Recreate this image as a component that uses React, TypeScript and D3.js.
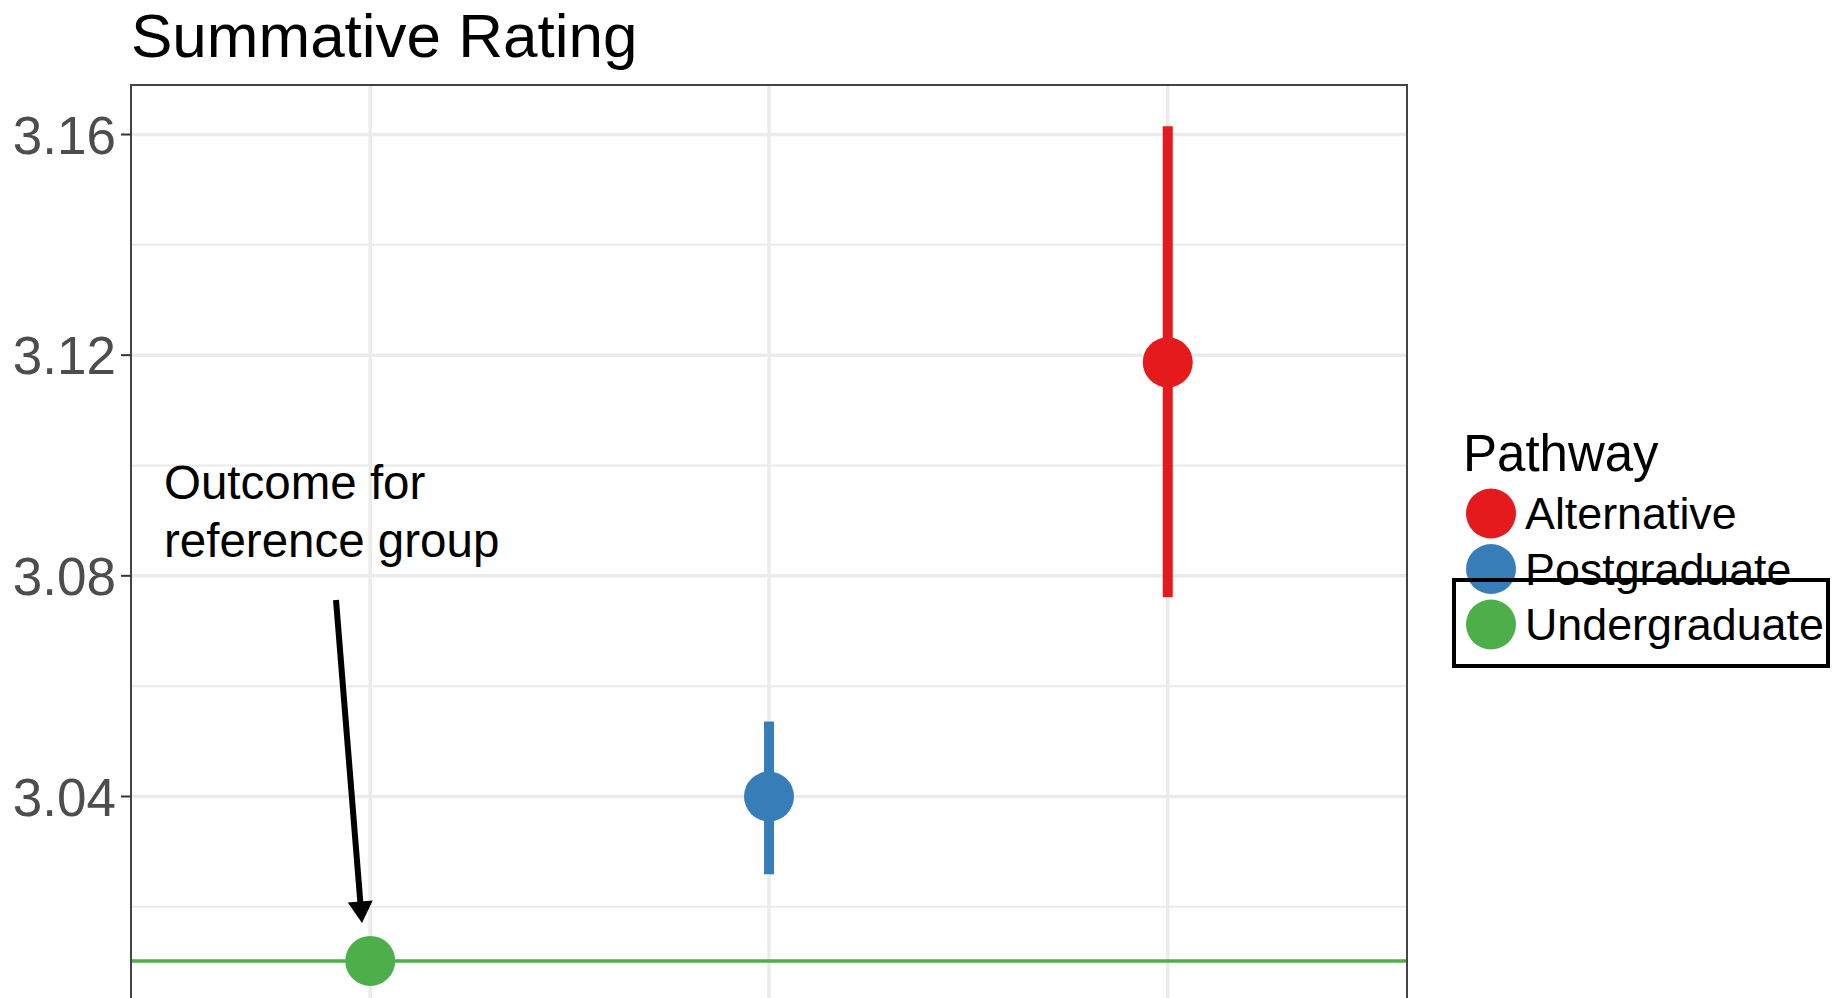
import React from "react";
import * as d3 from "d3";

// pathway estimates
const categories = ["Undergraduate", "Postgraduate", "Alternative"];
const estimates = [3.0102, 3.04, 3.1187];
const lower = [null, 3.0259, 3.0761];
const upper = [null, 3.0536, 3.1615];
const referenceValue = 3.0102;

const legendLabels = ["Alternative", "Postgraduate", "Undergraduate"];
const majorTicks = [3.04, 3.08, 3.12, 3.16];
const minorTicks = [3.02, 3.06, 3.1, 3.14];

const colors: Record<string, string> = {
  Alternative: "#E41A1C",
  Postgraduate: "#377EB8",
  Undergraduate: "#4DAF4A",
};

const W = 1832;
const H = 998;
const panel = { left: 131, right: 1407, top: 85, bottom: 1010 };
const FONT = "'Liberation Sans', Arial, Helvetica, sans-serif";

const App: React.FC = () => {
  // discrete x with ggplot's 0.6 expansion
  const x = d3
    .scaleLinear()
    .domain([0.4, 3.6])
    .range([panel.left, panel.right]);
  const xPos = (i: number) => x(i + 1);

  const y = d3.scaleLinear().domain([3.04, 3.16]).range([796.5, 134.5]);

  // arrow geometry
  const a0 = { x: 336, y: 600 };
  const a1 = { x: 362, y: 923 };
  const ang = Math.atan2(a1.y - a0.y, a1.x - a0.x);
  const headLen = 25;
  const spread = Math.PI / 6;
  const hp1 = [a1.x - headLen * Math.cos(ang - spread), a1.y - headLen * Math.sin(ang - spread)];
  const hp2 = [a1.x - headLen * Math.cos(ang + spread), a1.y - headLen * Math.sin(ang + spread)];
  const shaftEnd = [a1.x - headLen * 0.8 * Math.cos(ang), a1.y - headLen * 0.8 * Math.sin(ang)];

  return (
    <svg
      width={W}
      height={H}
      style={{ position: "absolute", left: 0, top: 0, background: "#fff" }}
      fontFamily={FONT}
    >
      <defs>
        <clipPath id="panelClip">
          <rect x={panel.left} y={panel.top} width={panel.right - panel.left} height={panel.bottom - panel.top} />
        </clipPath>
      </defs>

      <text x={131} y={57} fontSize={62} fill="#000">
        Summative Rating
      </text>

      <g clipPath="url(#panelClip)">
        {minorTicks.map((t) => (
          <line key={"mn" + t} x1={panel.left} x2={panel.right} y1={y(t)} y2={y(t)} stroke="#EBEBEB" strokeWidth={2} />
        ))}
        {majorTicks.map((t) => (
          <line key={"mj" + t} x1={panel.left} x2={panel.right} y1={y(t)} y2={y(t)} stroke="#EBEBEB" strokeWidth={3.5} />
        ))}
        {categories.map((c, i) => (
          <line key={"vx" + c} x1={xPos(i)} x2={xPos(i)} y1={panel.top} y2={panel.bottom} stroke="#EBEBEB" strokeWidth={3.5} />
        ))}

        <line
          x1={panel.left}
          x2={panel.right}
          y1={y(referenceValue)}
          y2={y(referenceValue)}
          stroke={colors.Undergraduate}
          strokeWidth={3.5}
        />

        {categories.map((c, i) =>
          lower[i] != null && upper[i] != null ? (
            <line
              key={"eb" + c}
              x1={xPos(i)}
              x2={xPos(i)}
              y1={y(upper[i] as number)}
              y2={y(lower[i] as number)}
              stroke={colors[c]}
              strokeWidth={10}
            />
          ) : null
        )}
        {categories.map((c, i) => (
          <circle key={"pt" + c} cx={xPos(i)} cy={y(estimates[i])} r={25} fill={colors[c]} />
        ))}

        <text x={164} y={499} fontSize={47.5} fill="#000">
          Outcome for
        </text>
        <text x={164} y={557} fontSize={47.5} fill="#000">
          reference group
        </text>

        <line x1={a0.x} y1={a0.y} x2={shaftEnd[0]} y2={shaftEnd[1]} stroke="#000" strokeWidth={6} />
        <polygon points={`${a1.x},${a1.y} ${hp1[0]},${hp1[1]} ${hp2[0]},${hp2[1]}`} fill="#000" />
      </g>

      <rect
        x={panel.left}
        y={panel.top}
        width={panel.right - panel.left}
        height={panel.bottom - panel.top}
        fill="none"
        stroke="#444444"
        strokeWidth={2}
      />

      {majorTicks.map((t) => (
        <g key={"yt" + t}>
          <line x1={panel.left - 10} x2={panel.left} y1={y(t)} y2={y(t)} stroke="#333333" strokeWidth={2} />
          <text x={panel.left - 15} y={y(t)} dy="0.36em" textAnchor="end" fontSize={53} fill="#4D4D4D">
            {t.toFixed(2)}
          </text>
        </g>
      ))}

      <text x={1463} y={471} fontSize={51} fill="#000">
        Pathway
      </text>
      {legendLabels.map((l, i) => (
        <g key={"lg" + l}>
          <circle cx={1491} cy={513.5 + i * 55.5} r={25} fill={colors[l]} />
          <text x={1525} y={529 + i * 55.5} fontSize={44.8} fill="#000">
            {l}
          </text>
        </g>
      ))}

      <rect x={1454} y={580} width={374} height={86} fill="none" stroke="#000" strokeWidth={4} />
    </svg>
  );
};

export default App;
